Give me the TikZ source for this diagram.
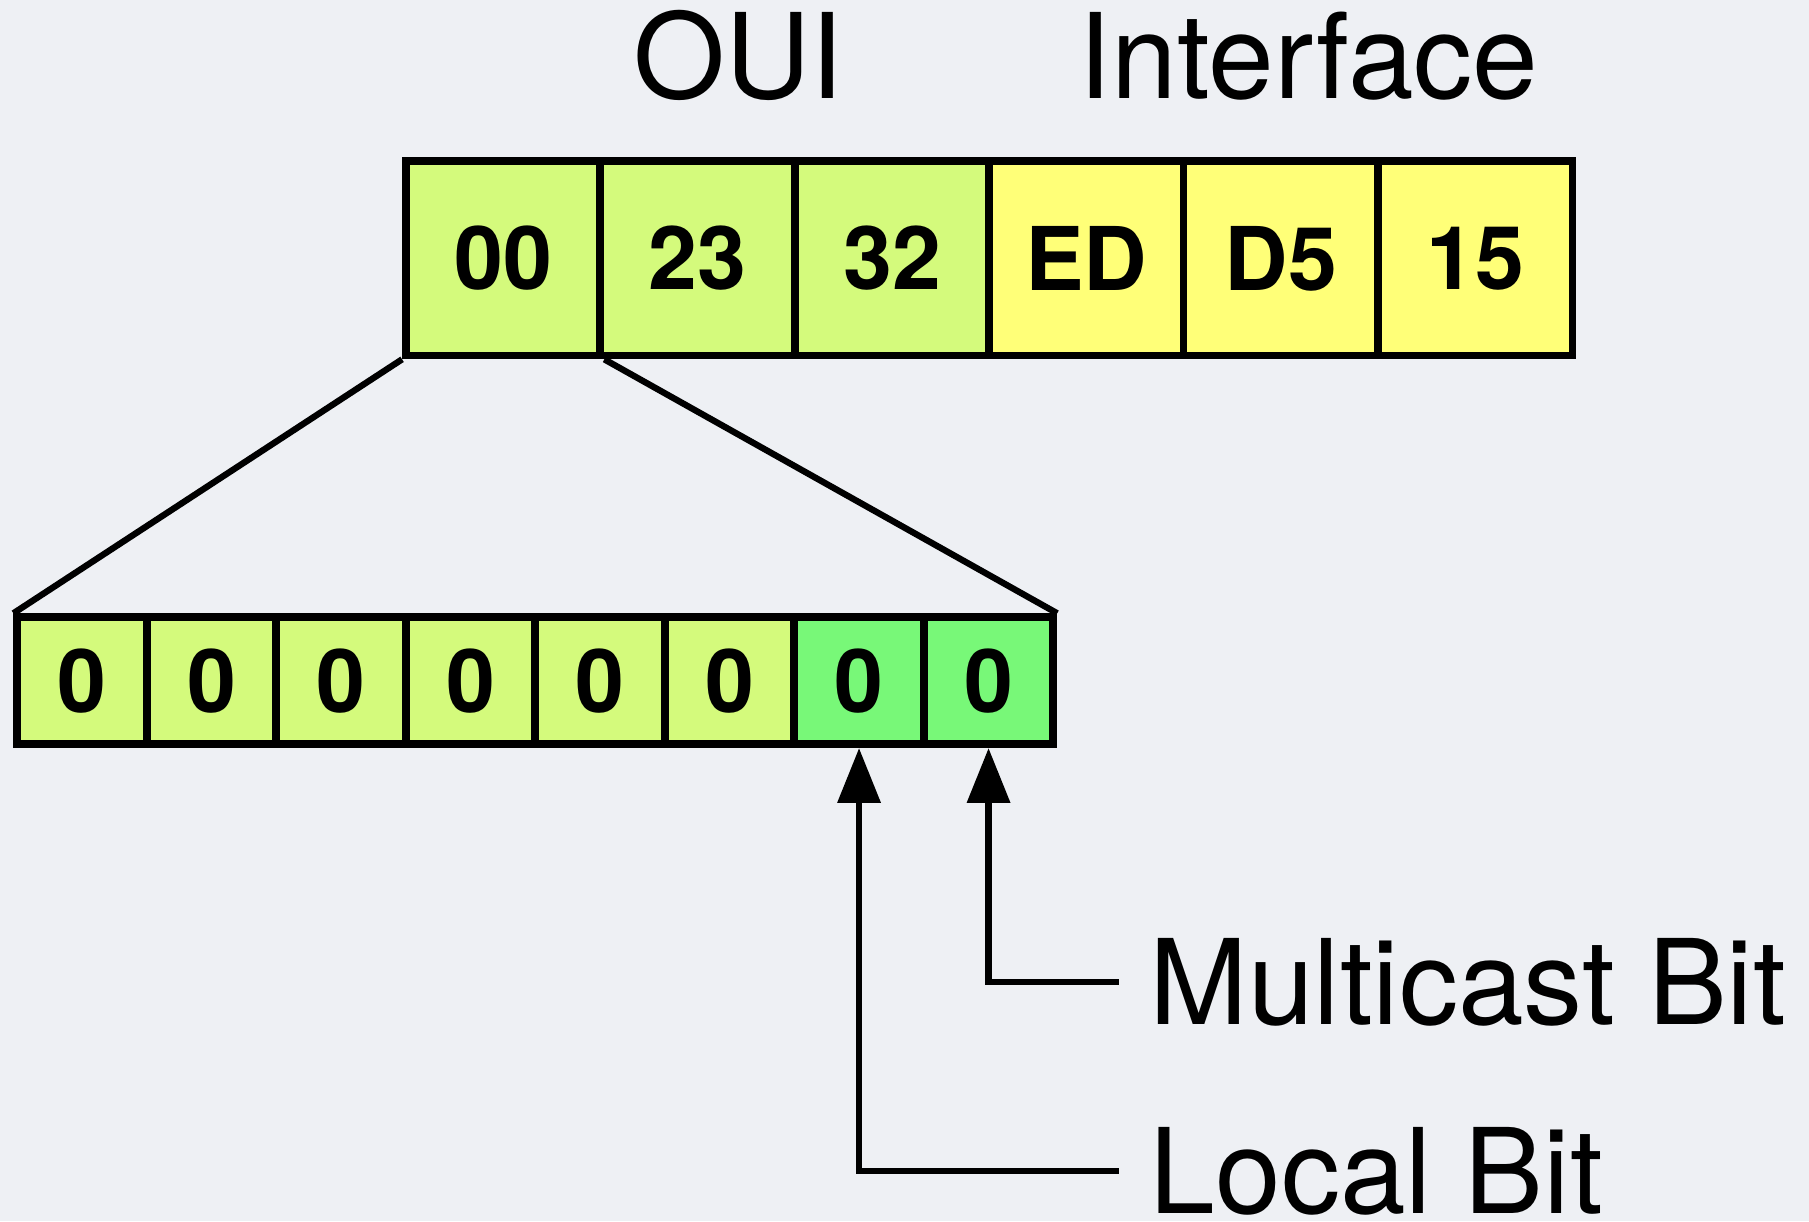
\documentclass[tikz,border=0pt]{standalone}
\usepackage{fontspec}
\setmainfont{TeX Gyre Heros}
\usetikzlibrary{arrows.meta}
\definecolor{bg}{HTML}{EEF0F4}
\definecolor{lime}{HTML}{D4FA7C}
\definecolor{yel}{HTML}{FFFF78}
\definecolor{grn}{HTML}{78F878}
\tikzset{
  topcell/.style={draw, line width=2.2pt, minimum width=1.944cm, minimum height=1.94cm, inner sep=0pt,
    font=\fontsize{25}{25}\selectfont\bfseries},
  bitcell/.style={draw, line width=2.2pt, minimum width=1.295cm, minimum height=1.27cm, inner sep=0pt,
    font=\fontsize{25}{25}\selectfont\bfseries},
  lbl/.style={inner sep=0pt, font=\fontsize{33.6}{33.6}\selectfont},
  conn/.style={line width=1.8pt, -{Triangle[length=15.6pt,width=12pt]}},
  fan/.style={line width=1.8pt}
}
\begin{document}
\begin{tikzpicture}[x=0.01cm,y=-0.01cm]
\fill[bg] (0,0) rectangle (1809,1221);
\useasboundingbox (0,0) rectangle (1809,1221);

% titles
\node[lbl, anchor=base west] (oui) at (633,98) {OUI};
\node[lbl, anchor=base west] (intf) at (1078,98) {Interface};

% top row
\node[topcell, fill=lime] (t1) at (503.2,258.4) {00};
\node[topcell, fill=lime] (t2) at (697.6,258.4) {23};
\node[topcell, fill=lime] (t3) at (892.0,258.4) {32};
\node[topcell, fill=yel]  (t4) at (1086.4,258.4) {ED};
\node[topcell, fill=yel]  (t5) at (1280.8,258.4) {D5};
\node[topcell, fill=yel]  (t6) at (1475.2,258.4) {15};

% bit row
\node[bitcell, fill=lime] (b1) at (82.05,680.7) {0};
\node[bitcell, fill=lime] (b2) at (211.55,680.7) {0};
\node[bitcell, fill=lime] (b3) at (341.05,680.7) {0};
\node[bitcell, fill=lime] (b4) at (470.55,680.7) {0};
\node[bitcell, fill=lime] (b5) at (600.05,680.7) {0};
\node[bitcell, fill=lime] (b6) at (729.55,680.7) {0};
\node[bitcell, fill=grn]  (b7) at (859.05,680.7) {0};
\node[bitcell, fill=grn]  (b8) at (988.55,680.7) {0};

% fan lines
\draw[fan] (t1.south west) -- (b1.north west);
\draw[fan] (t1.south east) -- (b8.north east);

% labels
\node[lbl, anchor=base west] (mc) at (1149,1024.5) {Multicast Bit};
\node[lbl, anchor=base west] (lb) at (1149,1213) {Local Bit};

\draw[conn] ([xshift=-0.3cm]mc.west) -| (b8.south);
\draw[conn] ([xshift=-0.3cm]lb.west) -| (b7.south);
\end{tikzpicture}
\end{document}
